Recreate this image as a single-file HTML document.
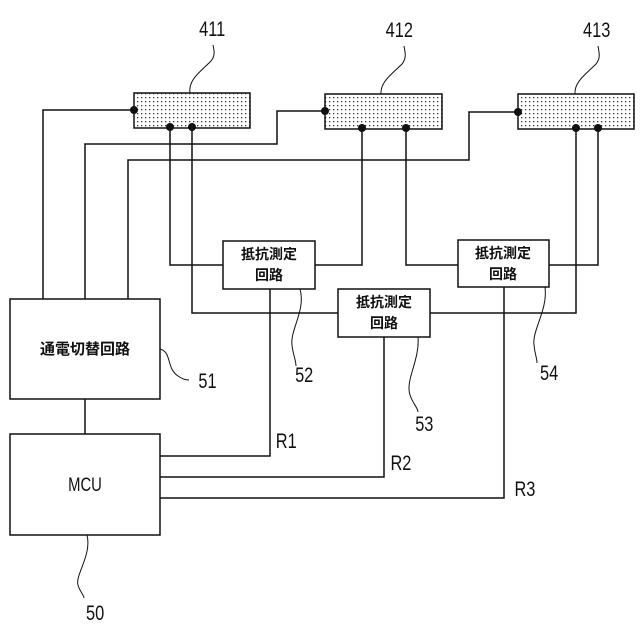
<!DOCTYPE html>
<html><head><meta charset="utf-8"><style>body{margin:0;background:#fff}svg{display:block}</style></head><body>
<svg width="640" height="640" viewBox="0 0 640 640" xmlns="http://www.w3.org/2000/svg">
<defs><pattern id="d" width="4" height="4" patternUnits="userSpaceOnUse"><rect x="1" y="1" width="1.3" height="1.3" fill="#333"/></pattern></defs>
<g fill="none" stroke="#111" stroke-width="1.5">
<rect x="134" y="93" width="116" height="35" fill="url(#d)"/>
<rect x="325" y="94" width="117" height="35" fill="url(#d)"/>
<rect x="518" y="94" width="116" height="35" fill="url(#d)"/>
<path d="M134 110H43V299"/>
<path d="M325 111H277V144H85V299"/>
<path d="M518 112H469V160H128V299"/>
<rect x="223" y="241" width="92" height="48" fill="#fff"/>
<rect x="458" y="240" width="91" height="47" fill="#fff"/>
<rect x="338" y="289" width="92" height="48" fill="#fff"/>
<path d="M170 127V265H223M315 265H362V128"/>
<path d="M406 128V265H458M549 265H598V128"/>
<path d="M192 127V313H338M430 313H576V128"/>
<rect x="10" y="299" width="150" height="100"/>
<path d="M85 399V434"/>
<rect x="10" y="434" width="150" height="101"/>
<path d="M270 289V456H160M384 337V477H160M504 287V498H160"/>
</g>
<g fill="none" stroke="#111" stroke-width="1">
<path d="M190 93C188 80 200 72 210 62C216 56 214 50 213 45"/>
<path d="M381 94C380 82 392 74 402 64C407 58 405 52 404 46"/>
<path d="M575 94C574 82 586 74 596 64C601 58 599 52 598 46"/>
<path d="M160 349C172 352 166 368 178 376C182 379 186 380 189 380"/>
<path d="M300 289C306 310 290 330 292 345C293 355 296 360 296 366"/>
<path d="M418 337C420 360 405 380 410 395C413 404 418 408 418 412"/>
<path d="M545 287C548 310 532 330 534 345C535 355 537 358 537 363"/>
<path d="M87 535C92 555 75 575 78 585C80 592 84 595 84 598"/>
</g>
<g fill="#111">
<circle cx="134" cy="110" r="4"/><circle cx="170" cy="127" r="4"/><circle cx="192" cy="127" r="4"/>
<circle cx="325" cy="111" r="4"/><circle cx="362" cy="128" r="4"/><circle cx="406" cy="128" r="4"/>
<circle cx="518" cy="112" r="4"/><circle cx="576" cy="128" r="4"/><circle cx="598" cy="128" r="4"/>
</g>
<g font-family="Liberation Sans, Noto Sans CJK JP, sans-serif" fill="#111" text-anchor="middle">
<g font-size="21" transform="scale(0.78,1)">
<text x="272" y="36">411</text><text x="512" y="37">412</text><text x="765" y="37">413</text>
<text x="266" y="388">51</text><text x="390" y="382">52</text><text x="544" y="431">53</text><text x="704" y="380">54</text><text x="122" y="620">50</text>
<text x="367" y="448">R1</text><text x="514" y="470">R2</text><text x="673" y="496">R3</text>
<text x="109" y="491" font-size="19">MCU</text>
</g>
<g font-size="14" font-weight="bold">
<text x="269" y="259">抵抗測定</text><text x="269" y="280">回路</text>
<text x="503" y="258">抵抗測定</text><text x="503" y="279">回路</text>
<text x="384" y="307">抵抗測定</text><text x="384" y="328">回路</text>
<text x="85" y="354" font-size="15">通電切替回路</text>
</g>
</g>
</svg>
</body></html>
